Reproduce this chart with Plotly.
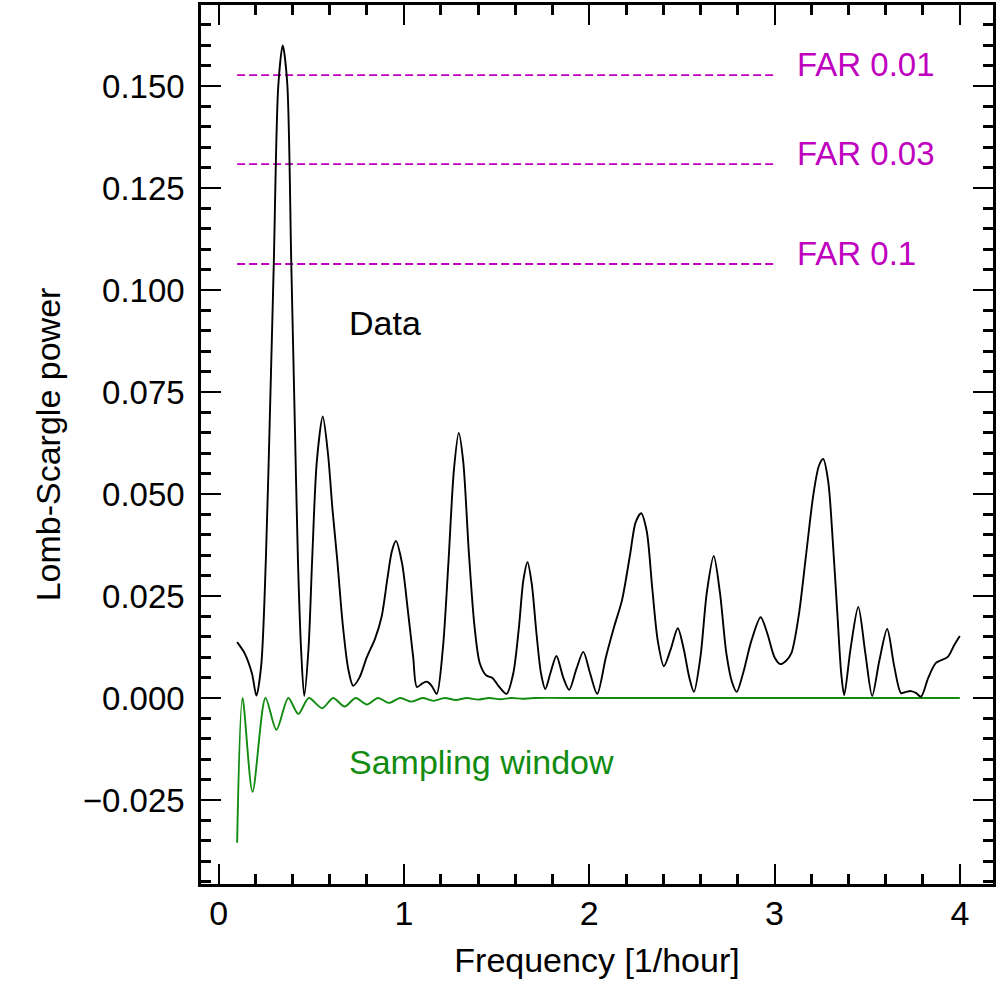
import plotly.graph_objects as go

# ---- Data ----
data_freq = [0.10, 0.14, 0.18, 0.204, 0.23, 0.255, 0.28, 0.298, 0.322, 0.346, 0.370, 0.392, 0.41, 0.428, 0.445, 0.462,
             0.485, 0.505, 0.53, 0.562, 0.59, 0.615, 0.64, 0.67, 0.70, 0.726,
             0.76, 0.80, 0.844, 0.88, 0.91, 0.935, 0.957, 0.99, 1.02, 1.05, 1.07, 1.10, 1.124, 1.15, 1.177,
             1.21, 1.24, 1.27, 1.296, 1.32, 1.35, 1.38, 1.409, 1.445, 1.478, 1.51, 1.554,
             1.59, 1.62, 1.645, 1.667, 1.69, 1.715, 1.74, 1.763, 1.79, 1.823, 1.86, 1.892, 1.93, 1.968, 2.005, 2.043,
             2.09, 2.134, 2.177, 2.22, 2.25, 2.28, 2.31, 2.34, 2.37, 2.403, 2.44, 2.478, 2.51, 2.54, 2.565,
             2.60, 2.635, 2.672, 2.705, 2.74, 2.77, 2.796, 2.83, 2.875, 2.925, 2.96, 3.00, 3.032, 3.06, 3.091,
             3.13, 3.17, 3.21, 3.24, 3.263, 3.29, 3.315, 3.34, 3.36, 3.376, 3.41, 3.452, 3.49, 3.527,
             3.565, 3.608, 3.645, 3.683, 3.71, 3.737, 3.765, 3.79, 3.83, 3.871, 3.935, 3.97, 4.00]
data_power = [0.0137, 0.0110, 0.0060, 0.0006, 0.008, 0.034, 0.075, 0.107, 0.150, 0.160, 0.151, 0.107, 0.070, 0.034, 0.012, 0.0005,
              0.012, 0.034, 0.058, 0.069, 0.060, 0.046, 0.034, 0.018, 0.007, 0.003,
              0.005, 0.010, 0.0145, 0.020, 0.029, 0.036, 0.0385, 0.033, 0.022, 0.010, 0.0027, 0.0036, 0.004, 0.003, 0.001,
              0.012, 0.033, 0.056, 0.065, 0.058, 0.036, 0.018, 0.0086, 0.0055, 0.0049, 0.003, 0.001,
              0.006, 0.017, 0.029, 0.0333, 0.028, 0.016, 0.006, 0.0022, 0.006, 0.0103, 0.005, 0.002, 0.007, 0.0113, 0.006, 0.001,
              0.010, 0.0174, 0.024, 0.035, 0.043, 0.0453, 0.041, 0.027, 0.014, 0.0078, 0.012, 0.0171, 0.012, 0.005, 0.0015,
              0.010, 0.026, 0.0348, 0.026, 0.011, 0.004, 0.0015, 0.006, 0.014, 0.0198, 0.016, 0.010, 0.0083, 0.009, 0.011,
              0.020, 0.035, 0.050, 0.057, 0.0586, 0.053, 0.038, 0.020, 0.006, 0.0007, 0.012, 0.0223, 0.011, 0.0005,
              0.009, 0.0169, 0.008, 0.0012, 0.0015, 0.0017, 0.0012, 0.0003, 0.005, 0.0086, 0.0101, 0.013, 0.0152]

window_freq = [0.10, 0.129, 0.183, 0.253, 0.312, 0.376, 0.430, 0.487, 0.559, 0.618, 0.68, 0.74, 0.80, 0.86, 0.92, 0.98,
               1.04, 1.10, 1.16, 1.22, 1.28, 1.34, 1.40, 1.46, 1.52, 1.58, 1.64, 1.70, 2.0, 2.5, 3.0, 3.5, 4.0]
window_power = [-0.0355, 0.0, -0.023, 0.0, -0.0078, 0.0, -0.0039, 0.0, -0.0025, 0.0, -0.0021, 0.0, -0.0016, 0.0, -0.0012, 0.0,
                -0.0009, 0.0, -0.0007, 0.0, -0.0005, 0.0, -0.0004, 0.0, -0.0003, 0.0, -0.0002, 0.0, 0.0, 0.0, 0.0, 0.0, 0.0]

far_levels = [0.1527, 0.1309, 0.1064]
far_labels = ["FAR 0.01", "FAR 0.03", "FAR 0.1"]
far_x = [0.10, 3.0]

MAGENTA = "#BF00BF"
GREEN = "#118C11"
FONT = "Liberation Sans"

fig = go.Figure()

for lvl in far_levels:
    fig.add_trace(go.Scatter(x=far_x, y=[lvl, lvl], mode="lines",
                             line=dict(color=MAGENTA, width=1.8, dash="8px,4px"),
                             hoverinfo="skip", showlegend=False))

fig.add_trace(go.Scatter(x=window_freq, y=window_power, mode="lines",
                         line=dict(color=GREEN, width=1.9, shape="spline", smoothing=0.8),
                         showlegend=False))
fig.add_trace(go.Scatter(x=data_freq, y=data_power, mode="lines",
                         line=dict(color="black", width=1.9, shape="spline", smoothing=0.8),
                         showlegend=False))

for lvl, lab in zip(far_levels, far_labels):
    fig.add_annotation(x=3.108, y=lvl, text=lab, showarrow=False, xanchor="left", yanchor="middle",
                       yshift=11, font=dict(family=FONT, size=33, color=MAGENTA))

fig.add_annotation(x=0.694, y=0.0919, text="Data", showarrow=False, xanchor="left", yanchor="middle",
                   font=dict(family=FONT, size=34, color="black"))
fig.add_annotation(x=0.694, y=-0.0157, text="Sampling window", showarrow=False, xanchor="left", yanchor="middle",
                   font=dict(family=FONT, size=34, color=GREEN))

fig.update_layout(
    width=996, height=983,
    margin=dict(l=201, r=0, t=5, b=99),
    paper_bgcolor="white", plot_bgcolor="white",
    font=dict(family=FONT, color="black"),
)
fig.update_xaxes(
    range=[-0.095, 4.179], showgrid=False, zeroline=False,
    showline=True, linecolor="black", linewidth=2.5, mirror="ticks",
    ticks="inside", ticklen=20, tickwidth=1.5, tickcolor="black",
    tick0=0, dtick=1, tickfont=dict(family=FONT, size=34), ticklabelstandoff=-3,
    minor=dict(ticks="inside", ticklen=10, tickwidth=3, tickcolor="black", dtick=0.2, tick0=0, showgrid=False),
    title=dict(text="Frequency [1/hour]", font=dict(family=FONT, size=34), standoff=18),
)
fig.update_yaxes(
    range=[-0.0456, 0.1699], showgrid=False, zeroline=False,
    showline=True, linecolor="black", linewidth=2.5, mirror="ticks",
    ticks="inside", ticklen=20, tickwidth=1.5, tickcolor="black",
    tick0=0, dtick=0.025, tickformat=".3f", tickfont=dict(family=FONT, size=33), ticklabelstandoff=7,
    minor=dict(ticks="inside", ticklen=10, tickwidth=3, tickcolor="black", dtick=0.005, tick0=0, showgrid=False),
    title=dict(text="Lomb-Scargle power", font=dict(family=FONT, size=34), standoff=12),
)

fig.write_html("out.html")
